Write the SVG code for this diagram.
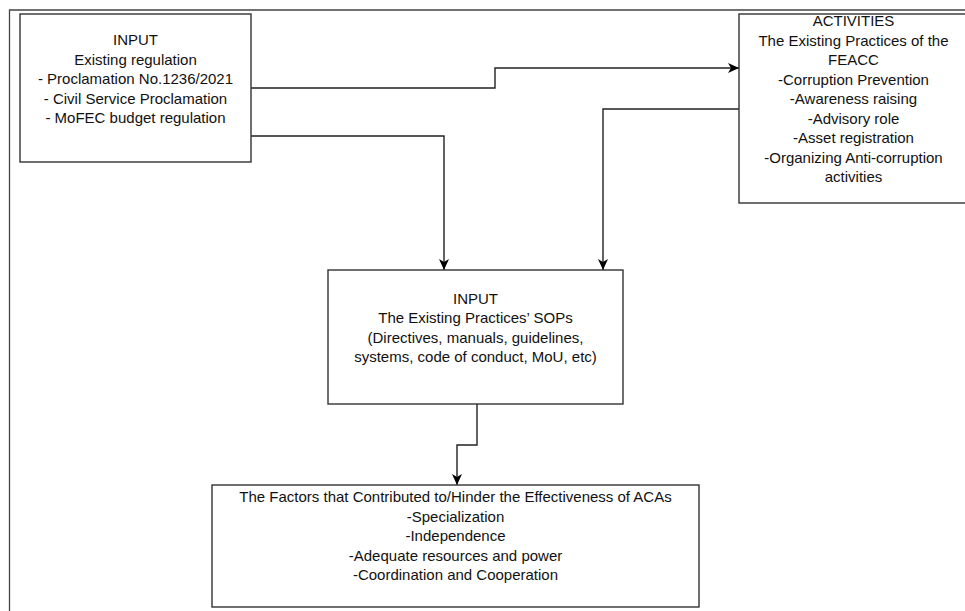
<svg xmlns="http://www.w3.org/2000/svg" width="965" height="611" viewBox="0 0 965 611">
<defs>
<marker id="arr" markerWidth="12" markerHeight="12" viewBox="0 0 12 12" refX="11" refY="6" orient="auto" markerUnits="userSpaceOnUse">
<path d="M0,1 L11,6 L0,11 L3,6 Z" fill="#000"/>
</marker>
<style>
.box{fill:#fff;stroke:#333;stroke-width:1.4}
.frame{fill:none;stroke:#444;stroke-width:1.3}
.conn{fill:none;stroke:#222;stroke-width:1.4}
text{font-family:"Liberation Sans",Arial,sans-serif;font-size:15px;fill:#111;text-anchor:middle}
</style>
</defs>
<rect width="965" height="611" fill="#fff"/>
<path class="frame" d="M9.5,611 V10 H965"/>
<g id="connectors">
<path class="conn" d="M251,88 H495 V68 H739" marker-end="url(#arr)"/>
<path class="conn" d="M251,136 H444 V270" marker-end="url(#arr)"/>
<path class="conn" d="M739,109 H603 V270" marker-end="url(#arr)"/>
<path class="conn" d="M477,404 V445 H457 V485" marker-end="url(#arr)"/>
</g>
<g id="input-regulation">
<rect class="box" x="20" y="14" width="231" height="148"/>
<text x="135.5" y="45">INPUT</text>
<text x="135.5" y="64.5">Existing regulation</text>
<text x="135.5" y="84">- Proclamation No.1236/2021</text>
<text x="135.5" y="103.5">- Civil Service Proclamation</text>
<text x="135.5" y="123">- MoFEC budget regulation</text>
</g>
<g id="activities">
<rect class="box" x="739" y="14" width="229" height="189"/>
<text x="853.5" y="26">ACTIVITIES</text>
<text x="853.5" y="45.5">The Existing Practices of the</text>
<text x="853.5" y="65">FEACC</text>
<text x="853.5" y="84.5">-Corruption Prevention</text>
<text x="853.5" y="104">-Awareness raising</text>
<text x="853.5" y="123.5">-Advisory role</text>
<text x="853.5" y="143">-Asset registration</text>
<text x="853.5" y="162.5">-Organizing Anti-corruption</text>
<text x="853.5" y="182">activities</text>
</g>
<g id="input-sops">
<rect class="box" x="328" y="270" width="295" height="134"/>
<text x="475.5" y="303.5">INPUT</text>
<text x="475.5" y="323">The Existing Practices’ SOPs</text>
<text x="475.5" y="342.5">(Directives, manuals, guidelines,</text>
<text x="475.5" y="362">systems, code of conduct, MoU, etc)</text>
</g>
<g id="factors">
<rect class="box" x="212" y="485" width="487" height="122"/>
<text x="455.5" y="502">The Factors that Contributed to/Hinder the Effectiveness of ACAs</text>
<text x="455.5" y="521.5">-Specialization</text>
<text x="455.5" y="541">-Independence</text>
<text x="455.5" y="560.5">-Adequate resources and power</text>
<text x="455.5" y="580">-Coordination and Cooperation</text>
</g>
</svg>
